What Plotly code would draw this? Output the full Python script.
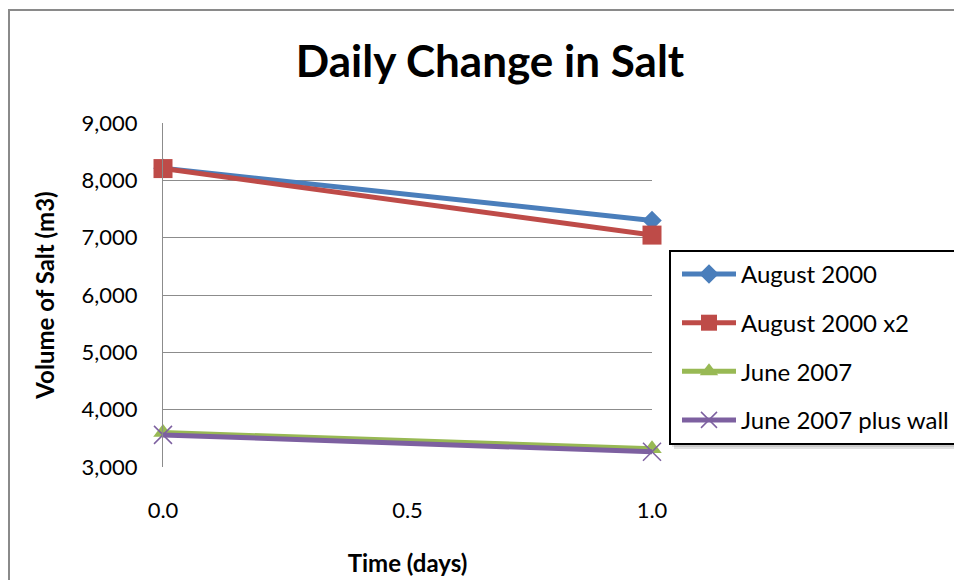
import plotly.graph_objects as go

# Time axis (days) and salt volume for each scenario (m3)
days = [0.0, 1.0]
aug_2000 = [8210, 7300]
aug_2000_x2 = [8205, 7045]
june_2007 = [3600, 3320]
june_2007_wall = [3560, 3265]

series_names = ["August 2000", "August 2000 x2", "June 2007", "June 2007 plus wall"]
series_values = [aug_2000, aug_2000_x2, june_2007, june_2007_wall]
series_colors = ["#4A7EBB", "#BE4B48", "#98B954", "#7D60A0"]
series_symbols = ["diamond", "square", "triangle-up", "x-thin-open"]
series_sizes = [15, 19, 17, 18]

y_ticks = [3000, 4000, 5000, 6000, 7000, 8000, 9000]
x_ticks = [0.0, 0.5, 1.0]

FONT = "Lato, 'Open Sans', sans-serif"

# plot-area geometry in pixels, used to place the frame and legend box
PL, PR, PT, PB = 163, 652, 123, 467
W, H = 954, 580


def px_x(x):
    return (x - PL) / (PR - PL)


def px_y(y):
    return (PB - y) / (PB - PT)


fig = go.Figure()
for name, vals, col, sym, size in zip(series_names, series_values, series_colors,
                                      series_symbols, series_sizes):
    marker = dict(symbol=sym, size=size, color=col)
    if sym == "x-thin-open":
        marker["line"] = dict(color=col, width=1.5)
    fig.add_trace(go.Scatter(
        x=days, y=vals, name=name, mode="lines+markers",
        line=dict(color=col, width=5),
        marker=marker, cliponaxis=False, legendgroup=name,
    ))

fig.update_layout(
    width=W, height=H,
    margin=dict(l=PL, r=W - PR, t=PT, b=H - PB, autoexpand=False),
    paper_bgcolor="white", plot_bgcolor="white",
    font=dict(family=FONT, color="#000000", size=22),
    title=dict(text="<b>Daily Change in Salt</b>", x=px_x(490), xanchor="center",
               xref="paper", y=1 - 62 / H, yanchor="middle",
               font=dict(size=44, family=FONT)),
    showlegend=True,
    legend=dict(
        x=px_x(677), y=px_y(252), xanchor="left", yanchor="top",
        bgcolor="rgba(0,0,0,0)", borderwidth=0,
        font=dict(size=24, family=FONT, color="#000000"), tracegroupgap=14.4,
        itemwidth=54,
    ),
    xaxis=dict(
        range=[0, 1], tickvals=x_ticks, ticktext=[f"{v:.1f}" for v in x_ticks],
        showgrid=False, zeroline=False, showline=False, automargin=False,
        ticks="outside", ticklen=24, tickcolor="rgba(0,0,0,0)",
        tickfont=dict(size=22),
        title=dict(text="<b>Time (days)</b>", standoff=32, font=dict(size=24)),
    ),
    yaxis=dict(
        range=[3000, 9000], tickvals=y_ticks, tickformat=",d", automargin=False,
        showgrid=True, gridcolor="#8C8C8C", gridwidth=1,
        zeroline=False, showline=True, linecolor="#8C8C8C", linewidth=1,
        ticks="outside", ticklen=20, tickcolor="rgba(0,0,0,0)",
        tickfont=dict(size=22),
        title=dict(text="<b>Volume of Salt (m3)</b>", standoff=20, font=dict(size=24)),
    ),
    shapes=[
        # outer chart frame (extends past the right and bottom edges)
        dict(type="rect", xref="paper", yref="paper",
             x0=px_x(9), x1=px_x(W + 40), y0=px_y(H + 40), y1=px_y(10),
             line=dict(color="#8A8A8A", width=2), fillcolor="rgba(0,0,0,0)",
             layer="below"),
        # soft shadow behind the legend box
        dict(type="rect", xref="paper", yref="paper",
             x0=px_x(674), x1=px_x(W + 40), y0=px_y(449), y1=px_y(256),
             line=dict(width=0), fillcolor="rgba(0,0,0,0.12)", layer="above"),
        dict(type="rect", xref="paper", yref="paper",
             x0=px_x(672), x1=px_x(W + 40), y0=px_y(447), y1=px_y(254),
             line=dict(width=0), fillcolor="rgba(0,0,0,0.10)", layer="above"),
        # legend box
        dict(type="rect", xref="paper", yref="paper",
             x0=px_x(670), x1=px_x(W + 40), y0=px_y(444), y1=px_y(251),
             line=dict(color="#000000", width=2), fillcolor="white",
             layer="above"),
    ],
)

fig.write_html("out.html")
